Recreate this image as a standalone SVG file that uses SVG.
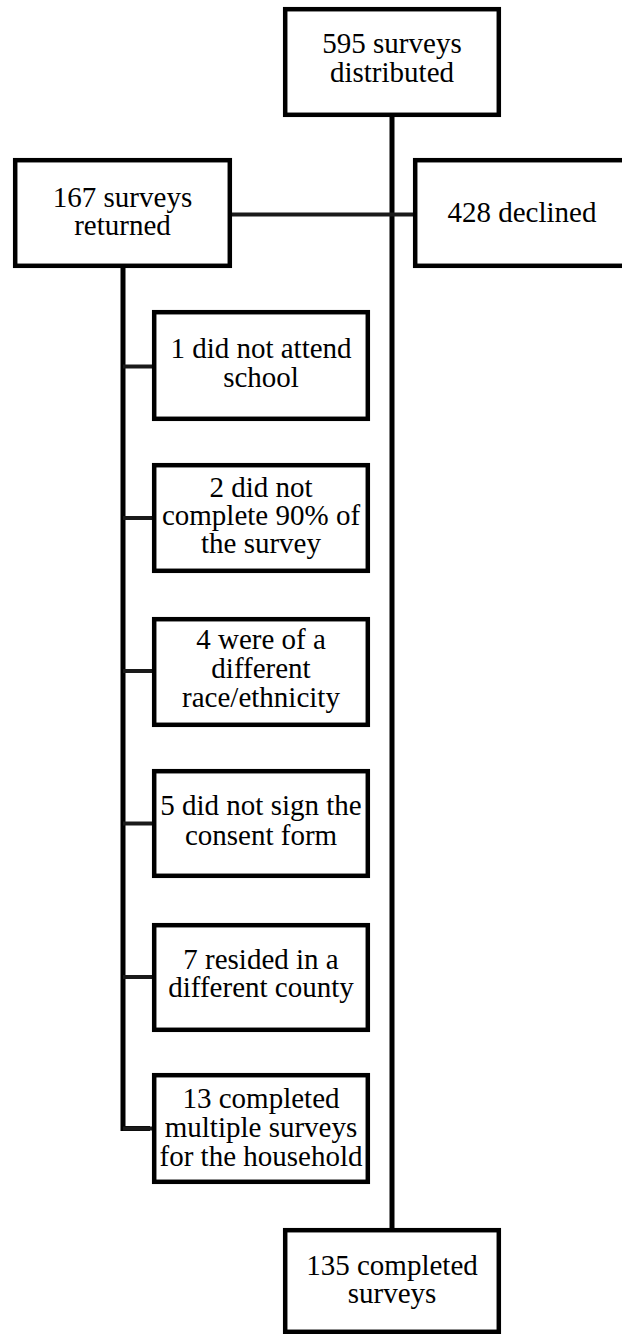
<svg xmlns="http://www.w3.org/2000/svg" width="622" height="1334" viewBox="0 0 622 1334">
<style>
.box{fill:#fff;stroke:#000;stroke-width:4.5}
.t{font-size:29px;fill:#000;text-anchor:middle}
.ln{stroke:#000;stroke-width:5;fill:none}
.st{stroke:#1a1a1a;stroke-width:4;fill:none}
</style>
<rect width="622" height="1334" fill="#fff"/>
<g id="connectors">
<line class="ln" x1="392" y1="115" x2="392" y2="1230"/>
<line class="st" x1="230" y1="214.5" x2="415" y2="214.5"/>
<polyline class="ln" points="123,266 123,1128.5 150,1128.5"/>
<line class="st" x1="123" y1="366.5" x2="154" y2="366.5"/>
<line class="st" x1="123" y1="518" x2="154" y2="518"/>
<line class="st" x1="123" y1="671" x2="154" y2="671"/>
<line class="st" x1="123" y1="823.5" x2="154" y2="823.5"/>
<line class="st" x1="123" y1="977" x2="154" y2="977"/>
<line class="st" x1="123" y1="1128.5" x2="154" y2="1128.5"/>
</g>
<g id="nodes" font-family="Liberation Serif">
<g id="n595">
<rect class="box" x="285.2" y="9.2" width="213.6" height="105.6"/>
<text class="t" x="392" y="53">595 surveys</text>
<text class="t" x="392" y="82">distributed</text>
</g>
<g id="n167">
<rect class="box" x="15.2" y="160.2" width="214.6" height="105.6"/>
<text class="t" x="122.5" y="207">167 surveys</text>
<text class="t" x="122.5" y="235">returned</text>
</g>
<g id="n428">
<rect class="box" x="415.2" y="160.2" width="214" height="105.6"/>
<text class="t" x="522" y="222">428 declined</text>
</g>
<g id="e1">
<rect class="box" x="154.2" y="312.2" width="213.6" height="106.6"/>
<text class="t" x="261" y="358">1 did not attend</text>
<text class="t" x="261" y="387">school</text>
</g>
<g id="e2">
<rect class="box" x="154.2" y="465.2" width="213.6" height="105.6"/>
<text class="t" x="261" y="497">2 did not</text>
<text class="t" x="261" y="525">complete 90% of</text>
<text class="t" x="261" y="553">the survey</text>
</g>
<g id="e3">
<rect class="box" x="154.2" y="619.2" width="213.6" height="105.6"/>
<text class="t" x="261" y="649">4 were of a</text>
<text class="t" x="261" y="678">different</text>
<text class="t" x="261" y="707">race/ethnicity</text>
</g>
<g id="e4">
<rect class="box" x="154.2" y="771.2" width="213.6" height="104.6"/>
<text class="t" x="261" y="815">5 did not sign the</text>
<text class="t" x="261" y="845">consent form</text>
</g>
<g id="e5">
<rect class="box" x="154.2" y="925.2" width="213.6" height="104.6"/>
<text class="t" x="261" y="969">7 resided in a</text>
<text class="t" x="261" y="997">different county</text>
</g>
<g id="e6">
<rect class="box" x="154.2" y="1075.2" width="213.6" height="106.6"/>
<text class="t" x="261" y="1108">13 completed</text>
<text class="t" x="261" y="1137">multiple surveys</text>
<text class="t" x="261" y="1166">for the household</text>
</g>
<g id="n135">
<rect class="box" x="285.2" y="1230.2" width="213.6" height="101.6"/>
<text class="t" x="392" y="1275">135 completed</text>
<text class="t" x="392" y="1303">surveys</text>
</g>
</g>
</svg>
